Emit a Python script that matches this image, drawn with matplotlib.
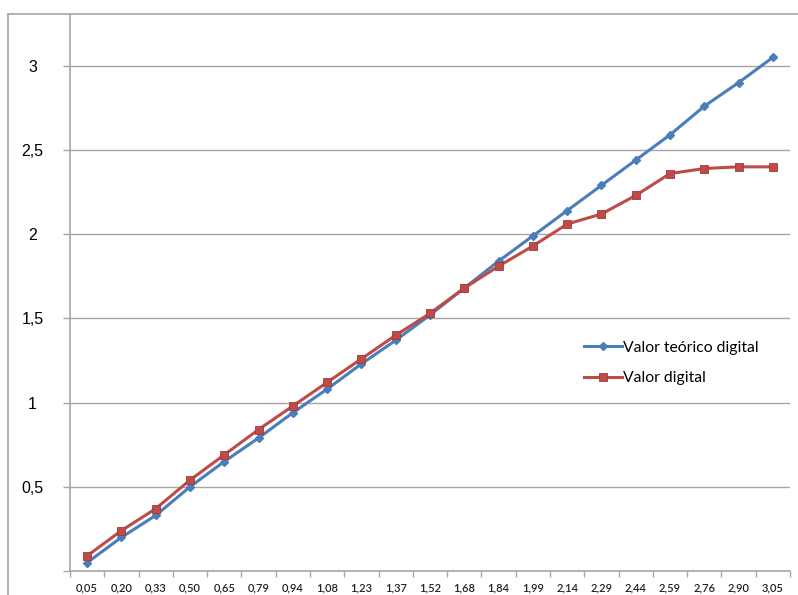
import matplotlib
matplotlib.use("Agg")
import matplotlib.pyplot as plt
from matplotlib.lines import Line2D
from matplotlib.ticker import FuncFormatter

categories = ["0,05", "0,20", "0,33", "0,50", "0,65", "0,79", "0,94", "1,08", "1,23", "1,37",
              "1,52", "1,68", "1,84", "1,99", "2,14", "2,29", "2,44", "2,59", "2,76", "2,90", "3,05"]
valor_teorico = [0.05, 0.20, 0.33, 0.50, 0.65, 0.79, 0.94, 1.08, 1.23, 1.37,
                 1.52, 1.68, 1.84, 1.99, 2.14, 2.29, 2.44, 2.59, 2.76, 2.90, 3.05]
valor_digital = [0.09, 0.24, 0.37, 0.54, 0.69, 0.84, 0.98, 1.12, 1.26, 1.40,
                 1.53, 1.68, 1.81, 1.93, 2.06, 2.12, 2.23, 2.36, 2.39, 2.40, 2.40]
y_ticks = [0.5, 1, 1.5, 2, 2.5, 3]

W, H = 798, 595
fig = plt.figure(figsize=(W / 100, H / 100), dpi=100)
fig.patch.set_facecolor("white")

ax_l, ax_r, ax_t, ax_b = 70, 790, 14, 571
ax = fig.add_axes([ax_l / W, 1 - ax_b / H, (ax_r - ax_l) / W, (ax_b - ax_t) / H])

x = list(range(len(categories)))
blue = "#4A7EBB"
red = "#BE4B48"
ax.plot(x, valor_teorico, color=blue, lw=2.2, marker="D", ms=4.5,
        markeredgecolor=blue, label="Valor teórico digital", zorder=3)
ax.plot(x, valor_digital, color=red, lw=2.2, marker="s", ms=6,
        markeredgecolor="#A03A38", markerfacecolor=red, markeredgewidth=0.6,
        label="Valor digital", zorder=4)

ax.set_xlim(-0.5, len(categories) - 0.5)
ax.set_ylim(0, (ax_b - ax_t) / 168.4)

grid_c = "#A6A6A6"
ax.set_yticks(y_ticks)
ax.yaxis.set_major_formatter(FuncFormatter(lambda v, p: ("%g" % v).replace(".", ",")))
ax.set_yticks([0], minor=True)
for v in y_ticks:
    ax.axhline(v, color=grid_c, lw=1.0, zorder=1)

ax.set_xticks(x)
ax.set_xticklabels(categories, fontfamily="Lato", fontsize=8, fontweight="semibold", color="#222222")
ax.set_xticks([i - 0.5 for i in range(len(categories) + 1)], minor=True)
ax.tick_params(axis="x", which="major", length=0, pad=8)
ax.tick_params(axis="x", which="minor", length=4, color=grid_c, width=1)
ax.tick_params(axis="y", which="both", length=5, color=grid_c, width=1)
for lab in ax.get_yticklabels():
    lab.set_fontfamily("Liberation Sans")
    lab.set_fontsize(11.5)
    lab.set_horizontalalignment("center")
ax.yaxis.set_tick_params(pad=22)

for s in ["top", "right"]:
    ax.spines[s].set_visible(False)
ax.spines["left"].set_color(grid_c)
ax.spines["bottom"].set_color(grid_c)
ax.spines["left"].set_linewidth(1.2)
ax.spines["bottom"].set_linewidth(1.2)

# outer chart border (cropped)
fig.add_artist(Line2D([8 / W, 8 / W], [0, 1 - 14 / H], transform=fig.transFigure, color=grid_c, lw=1.2))
fig.add_artist(Line2D([8 / W, 1], [1 - 14 / H, 1 - 14 / H], transform=fig.transFigure, color=grid_c, lw=1.2))

leg = ax.legend(loc="center left", bbox_to_anchor=(570 / W, 1 - 363 / H),
                bbox_transform=fig.transFigure, frameon=False,
                prop={"family": "Lato", "size": 11.3}, handlelength=2.4,
                handletextpad=0.1, labelspacing=1.05)

fig.savefig("out.png", dpi=100)
